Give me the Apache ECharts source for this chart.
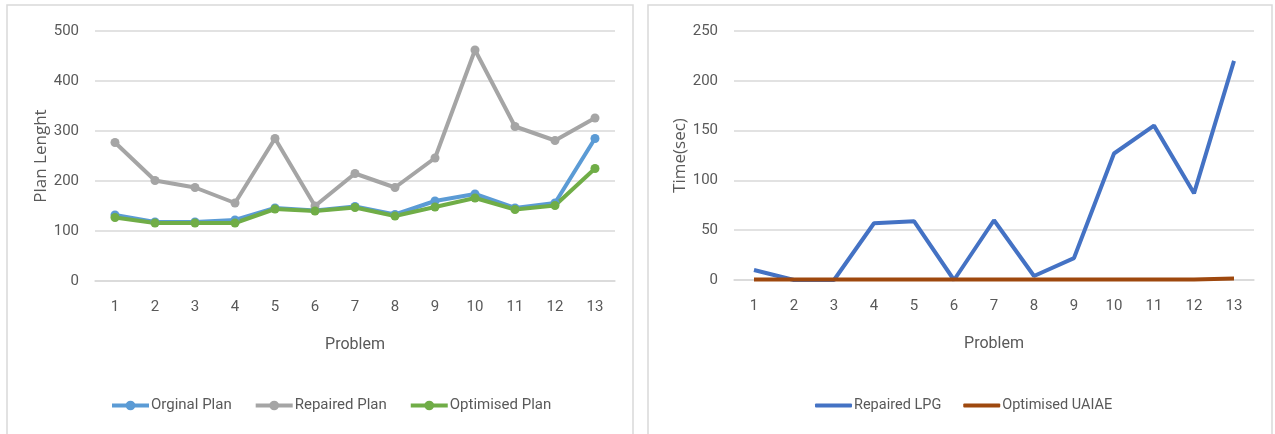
<!DOCTYPE html>
<html>
<head>
<meta charset="utf-8">
<style>
  html, body { margin: 0; padding: 0; background: #ffffff; }
  #chart { width: 1275px; height: 434px; }
</style>
<script src="https://cdn.jsdelivr.net/npm/echarts@6/dist/echarts.min.js"></script>
</head>
<body>
<div id="chart"></div>
<script>
// Problem numbers shared by both panels
const problems = ['1', '2', '3', '4', '5', '6', '7', '8', '9', '10', '11', '12', '13'];

// Left panel: plan length per problem
const originalPlan  = [132, 118, 118, 122, 146, 141, 149, 133, 160, 174, 146, 156, 285];
const repairedPlan  = [277, 201, 187, 156, 285, 150, 215, 187, 246, 462, 309, 281, 326];
const optimisedPlan = [127, 116, 116, 116, 144, 140, 147, 130, 148, 166, 143, 151, 225];

// Right panel: run time in seconds per problem
const repairedLPG    = [10, 0, 0, 57, 59, 0, 60, 4, 22, 127, 155, 87, 220];
const optimisedUAIAE = [0.5, 0.5, 0.5, 0.5, 0.5, 0.5, 0.5, 0.5, 0.5, 0.5, 0.5, 0.5, 1.5];

// Axis tick settings
const planTicks = { min: 0, max: 500, interval: 100 };
const timeTicks = { min: 0, max: 250, interval: 50 };

const FONT = "Roboto, sans-serif";
const TITLE_FONT = "'Open Sans', 'DejaVu Sans', sans-serif";
const TEXT = '#595959';
const GRID = '#d9d9d9';

const chart = echarts.init(document.getElementById('chart'), null, { renderer: 'canvas' });

function xAxisFor(gridIndex) {
  return {
    type: 'category',
    gridIndex: gridIndex,
    data: problems,
    boundaryGap: true,
    axisLine: { show: true, lineStyle: { color: GRID, width: 1.5 } },
    axisTick: { show: false },
    axisLabel: { color: TEXT, fontFamily: FONT, fontSize: 15, margin: 19 },
    name: 'Problem',
    nameLocation: 'middle',
    nameGap: 56,
    nameTextStyle: { color: TEXT, fontFamily: FONT, fontSize: 16 }
  };
}

function yAxisFor(gridIndex, ticks, title) {
  return {
    type: 'value',
    gridIndex: gridIndex,
    min: ticks.min,
    max: ticks.max,
    interval: ticks.interval,
    axisLine: { show: false },
    axisTick: { show: false },
    splitLine: { show: true, lineStyle: { color: GRID, width: 1.5 } },
    axisLabel: { color: TEXT, fontFamily: FONT, fontSize: 15, margin: 16 },
    name: title,
    nameLocation: 'middle',
    nameGap: 43,
    nameRotate: 90,
    nameTextStyle: { color: TEXT, fontFamily: TITLE_FONT, fontSize: 17 }
  };
}

function markedLine(name, data, color) {
  return {
    name: name,
    type: 'line',
    xAxisIndex: 0,
    yAxisIndex: 0,
    data: data,
    symbol: 'circle',
    symbolSize: 9,
    showSymbol: true,
    lineStyle: { color: color, width: 4 },
    itemStyle: { color: color },
    emphasis: { disabled: true },
    animation: false
  };
}

function plainLine(name, data, color) {
  return {
    name: name,
    type: 'line',
    xAxisIndex: 1,
    yAxisIndex: 1,
    data: data,
    symbol: 'none',
    lineStyle: { color: color, width: 4 },
    itemStyle: { color: color },
    emphasis: { disabled: true },
    animation: false
  };
}

const option = {
  backgroundColor: '#ffffff',
  animation: false,
  graphic: [
    { type: 'rect', shape: { x: 7, y: 5, width: 626, height: 440 },
      style: { fill: 'none', stroke: GRID, lineWidth: 1.5 }, silent: true },
    { type: 'rect', shape: { x: 648, y: 5, width: 624, height: 440 },
      style: { fill: 'none', stroke: GRID, lineWidth: 1.5 }, silent: true }
  ],
  grid: [
    { left: 95, width: 520, top: 31, height: 250 },
    { left: 734, width: 520, top: 31, height: 249 }
  ],
  legend: [
    {
      left: 110, top: 398, padding: 0,
      itemWidth: 37, itemHeight: 12, itemGap: 22,
      data: ['Orginal Plan', 'Repaired Plan', 'Optimised Plan'],
      lineStyle: { width: 4 },
      textStyle: { color: TEXT, fontFamily: FONT, fontSize: 15, padding: [0, 0, 0, -3] }
    },
    {
      left: 815, top: 398, padding: 0,
      icon: 'roundRect',
      itemWidth: 37, itemHeight: 4, itemGap: 22,
      data: ['Repaired LPG', 'Optimised UAIAE'],
      textStyle: { color: TEXT, fontFamily: FONT, fontSize: 14.5, padding: [0, 0, 0, -3] }
    }
  ],
  xAxis: [xAxisFor(0), xAxisFor(1)],
  yAxis: [
    yAxisFor(0, planTicks, 'Plan Lenght'),
    yAxisFor(1, timeTicks, 'Time(sec)')
  ],
  series: [
    markedLine('Orginal Plan', originalPlan, '#5b9bd5'),
    markedLine('Repaired Plan', repairedPlan, '#a5a5a5'),
    markedLine('Optimised Plan', optimisedPlan, '#70ad47'),
    plainLine('Repaired LPG', repairedLPG, '#4472c4'),
    plainLine('Optimised UAIAE', optimisedUAIAE, '#9e480e')
  ]
};

chart.setOption(option);
</script>
</body>
</html>
